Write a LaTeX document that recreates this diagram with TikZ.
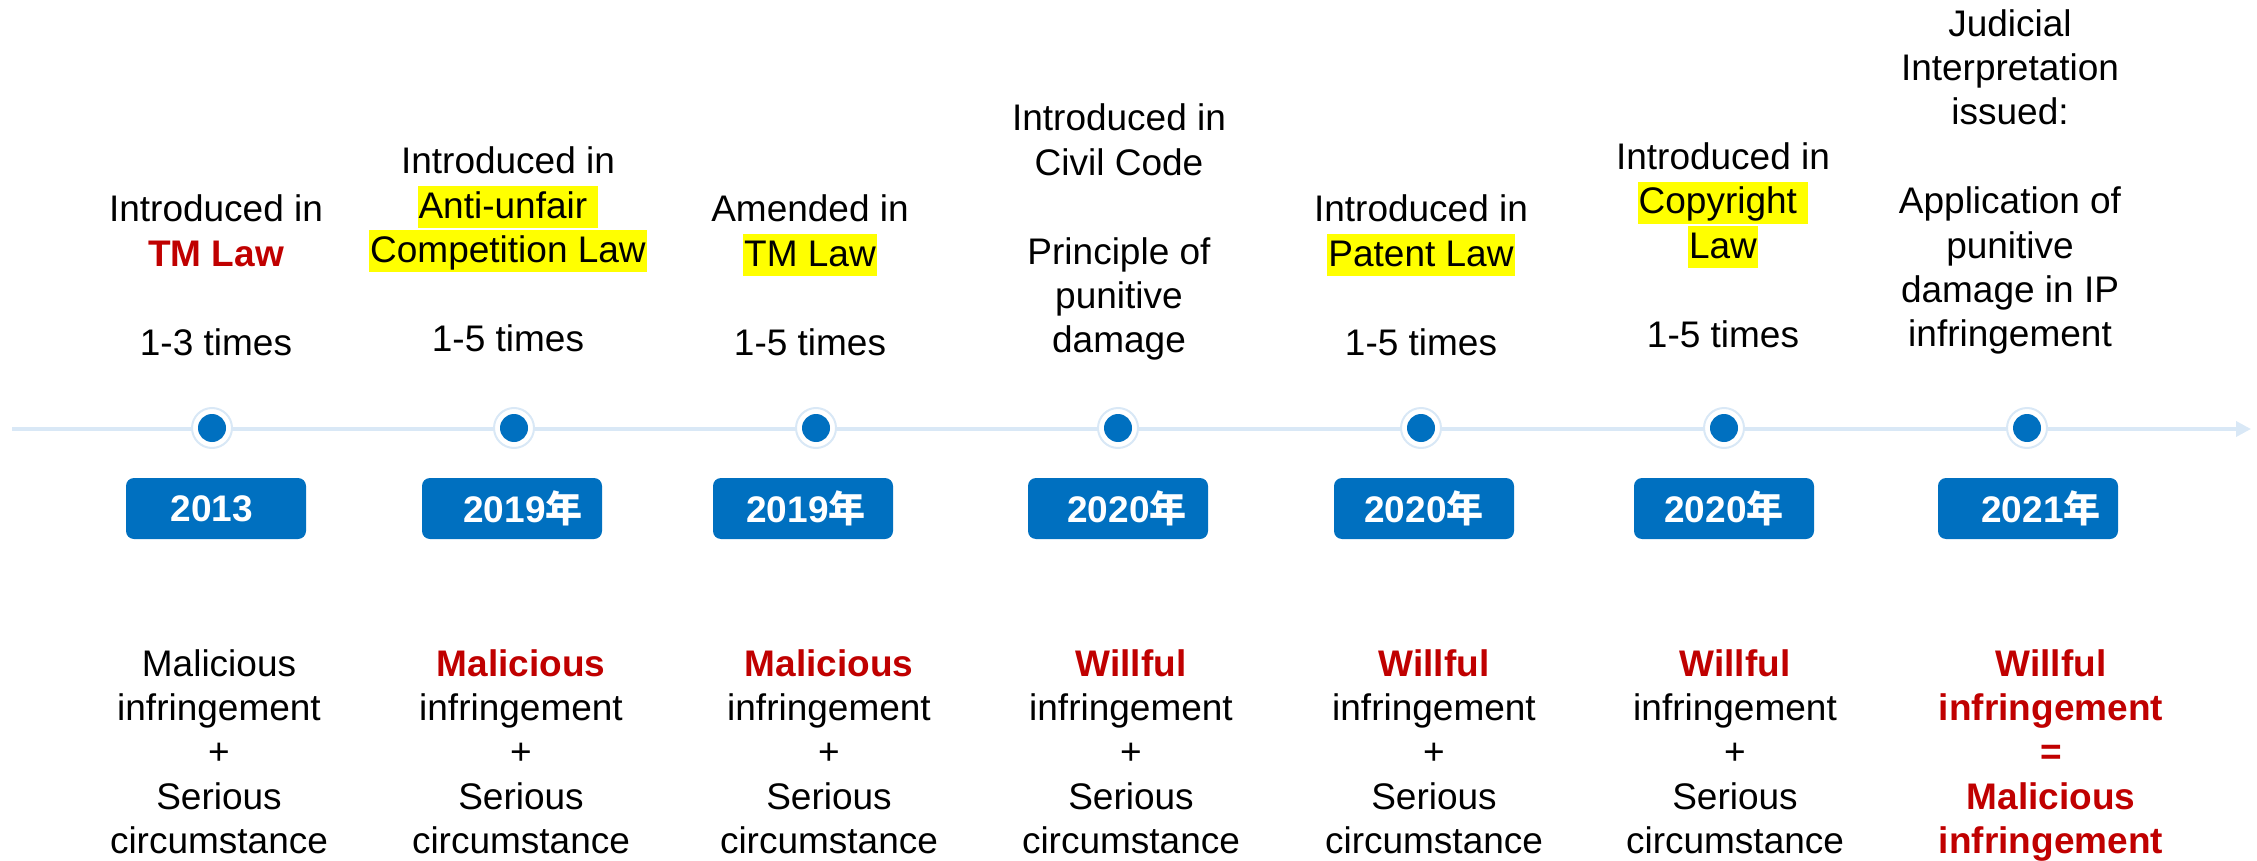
\documentclass[tikz,border=0pt]{standalone}
\usepackage{fontspec}
\setmainfont{Liberation Sans}
\newfontfamily\cjk{Noto Sans CJK SC}
\usetikzlibrary{arrows.meta}
\definecolor{tblue}{HTML}{0070C0}
\definecolor{tline}{HTML}{D9E8F6}
\definecolor{tred}{HTML}{C00000}
\definecolor{hly}{HTML}{FFFF00}
\newcommand\hl[1]{{\setlength{\fboxsep}{0pt}\colorbox{hly}{\kern1pt\rule[-10pt]{0pt}{42pt}#1\kern1pt}}}
\newcommand\rb[1]{\textcolor{tred}{\bfseries #1}}
\newcommand\yr[2]{\hspace*{#1}\textbf{#2}}
\newcommand\nian{{\cjk\bfseries 年}}
\lineskiplimit=-100pt
\begin{document}
\begin{tikzpicture}[x=1pt,y=-1pt,
  txt/.style={align=center, anchor=north, inner sep=0pt, text=black,
    font=\fontsize{37}{44.4}\selectfont},
  yearbox/.style={fill=tblue, rounded corners=8pt, minimum width=180pt, minimum height=61pt,
    inner sep=0pt, text=white, font=\fontsize{37}{44}\selectfont},
  ring/.style={circle, fill=white, draw=tline, line width=2pt, minimum size=40pt, inner sep=0pt},
  dot/.style={circle, fill=tblue, minimum size=28pt, inner sep=0pt},
  axis/.style={draw=tline, line width=3.5pt, -{Triangle[length=15pt,width=15pt]}}
]
\useasboundingbox (0,0) rectangle (2257,861);

% timeline
\coordinate (ls) at (12,429);
\coordinate (le) at (2251,429);
\draw[axis] (ls) -- (le);

% dots
\foreach \i/\x in {1/212,2/514,3/816,4/1118,5/1421,6/1724,7/2027}{
  \node[ring] (r\i) at (\x,428) {};
  \node[dot] (d\i) at (\x,428) {};
}

% year boxes
\node[yearbox] (y1) at (216,508.5) {\yr{-8pt}{2013}};
\node[yearbox] (y2) at (512,508.5) {\yr{22pt}{2019}\nian};
\node[yearbox] (y3) at (803,508.5) {\yr{6pt}{2019}\nian};
\node[yearbox] (y4) at (1118,508.5) {\yr{18pt}{2020}\nian};
\node[yearbox] (y5) at (1424,508.5) {\yr{0pt}{2020}\nian};
\node[yearbox] (y6) at (1724,508.5) {\yr{0pt}{2020}\nian};
\node[yearbox] (y7) at (2028,508.5) {\yr{26pt}{2021}\nian};

% top texts
\node[txt] (t1) at (216,190.6) {\strut Introduced in\\ \rb{TM Law}\\ ~\\ 1-3 times};
\node[txt] (t2) at (508,142.4) {\strut Introduced in\\ \hl{Anti-unfair\ }\\ \hl{Competition Law}\\ ~\\ 1-5 times};
\node[txt] (t3) at (810,190.6) {\strut Amended in\\ \hl{TM Law}\\ ~\\ 1-5 times};
\node[txt] (t4) at (1119,99.6) {\strut Introduced in\\ Civil Code\\ ~\\ Principle of\\ punitive\\ damage};
\node[txt] (t5) at (1421,190.6) {\strut Introduced in\\ \hl{Patent Law}\\ ~\\ 1-5 times};
\node[txt] (t6) at (1723,138.2) {\strut Introduced in\\ \hl{Copyright\ }\\ \hl{Law}\\ ~\\ 1-5 times};
\node[txt] (t7) at (2010,4.9) {\strut Judicial\\ Interpretation\\ issued:\\ ~\\ Application of\\ punitive\\ damage in IP\\ infringement};

% bottom texts
\node[txt] (b1) at (219,644.9) {\strut Malicious\\ infringement\\ +\\ Serious\\ circumstance};
\node[txt] (b2) at (521,644.9) {\strut \rb{Malicious}\\ infringement\\ +\\ Serious\\ circumstance};
\node[txt] (b3) at (829,644.9) {\strut \rb{Malicious}\\ infringement\\ +\\ Serious\\ circumstance};
\node[txt] (b4) at (1131,644.9) {\strut \rb{Willful}\\ infringement\\ +\\ Serious\\ circumstance};
\node[txt] (b5) at (1434,644.9) {\strut \rb{Willful}\\ infringement\\ +\\ Serious\\ circumstance};
\node[txt] (b6) at (1735,644.9) {\strut \rb{Willful}\\ infringement\\ +\\ Serious\\ circumstance};
\node[txt] (b7) at (2051,644.9) {\strut \rb{Willful}\\ \rb{infringement}\\ \rb{=}\\ \rb{Malicious}\\ \rb{infringement}};
\end{tikzpicture}
\end{document}
